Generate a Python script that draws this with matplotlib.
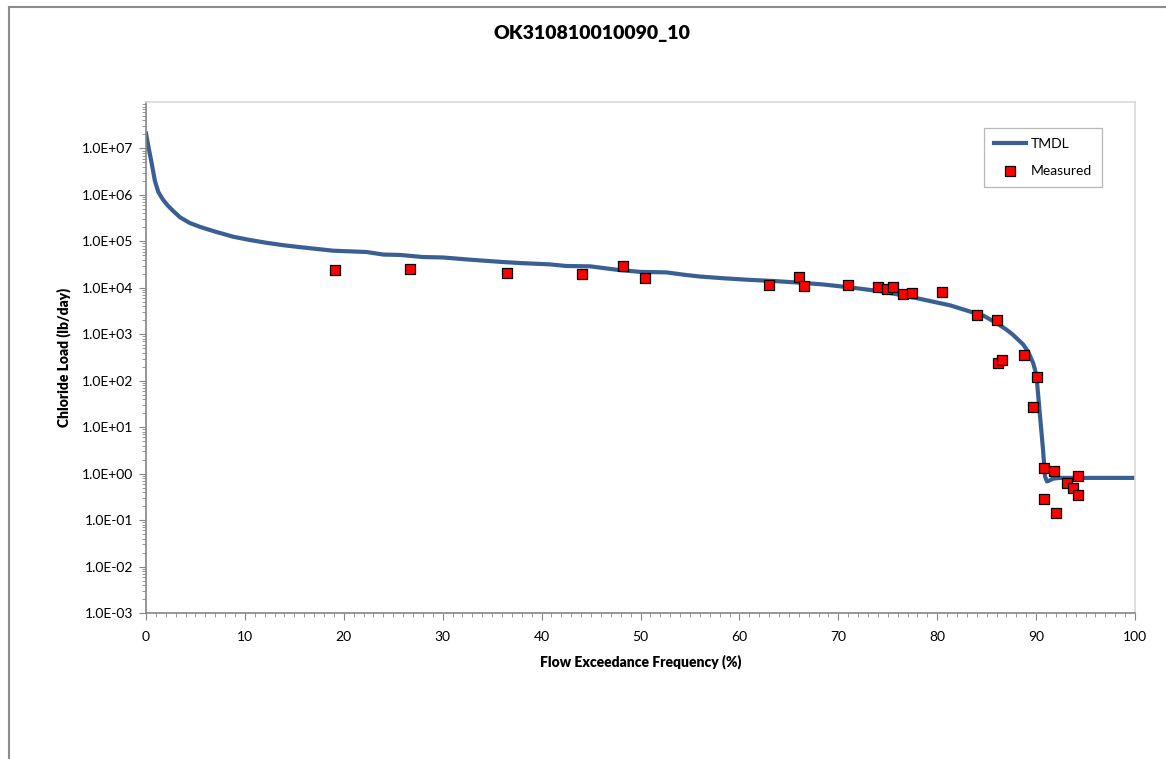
import math
import matplotlib
matplotlib.use('Agg')

import matplotlib.pyplot as plt
import matplotlib.ticker as mticker
from matplotlib.lines import Line2D

plt.rcParams['font.family'] = ['Lato', 'DejaVu Sans']

# TMDL curve (flow exceedance %, lb/day)
tmdl_x = [0.0, 0.3, 0.6, 0.9, 1.25, 1.7, 2.2, 2.8, 3.44, 4.4, 5.46, 7.0, 8.8, 10.5,
          12.2, 14.0, 15.6, 18.9, 22.3, 24.0, 25.7, 28.0, 30.0, 33.0, 36.0, 38.0,
          40.8, 42.5, 44.9, 47.6, 50.0, 52.6, 54.5, 56.0, 58.5, 61.1, 63.5, 66.1,
          68.5, 71.2, 74.5, 77.9, 81.3, 84.7, 86.0, 87.0, 87.6, 88.2, 88.7, 89.2,
          89.7, 89.9, 90.1, 90.4, 90.7, 90.9, 91.1, 91.4, 91.7, 92.4, 95.0, 100.0]
tmdl_y = [2.1e7, 9.5e6, 4.5e6, 2.0e6, 1.15e6, 8.0e5, 5.9e5, 4.4e5, 3.3e5, 2.5e5,
          2.05e5, 1.62e5, 1.26e5, 1.07e5, 9.3e4, 8.2e4, 7.5e4, 6.3e4, 5.9e4, 5.2e4,
          5.1e4, 4.6e4, 4.5e4, 4.0e4, 3.6e4, 3.4e4, 3.2e4, 2.95e4, 2.9e4, 2.45e4,
          2.2e4, 2.15e4, 1.9e4, 1.75e4, 1.6e4, 1.48e4, 1.4e4, 1.29e4, 1.18e4,
          1.02e4, 8.3e3, 6.0e3, 4.2e3, 2.5e3, 1.74e3, 1.26e3, 1.0e3, 7.6e2, 6.0e2,
          4.2e2, 2.4e2, 1.7e2, 90.0, 17.0, 3.3, 0.87, 0.68, 0.72, 0.78, 0.81, 0.81,
          0.81]

# measured loads
meas_x = [19.1, 26.7, 36.5, 44.1, 48.2, 50.5, 63.0, 66.0, 66.5, 71.0, 74.0, 74.9,
          75.5, 76.5, 77.5, 80.5, 84.0, 86.0, 86.1, 86.6, 88.8, 90.1, 89.7, 90.8,
          91.8, 90.8, 92.0, 93.1, 93.7, 94.2, 94.2]
meas_y = [2.4e4, 2.5e4, 2.1e4, 2.0e4, 2.9e4, 1.6e4, 1.15e4, 1.7e4, 1.1e4, 1.15e4,
          1.05e4, 9.5e3, 1.05e4, 7.3e3, 7.8e3, 8.2e3, 2.6e3, 2.0e3, 2.4e2, 2.8e2,
          3.6e2, 1.2e2, 27.0, 1.3, 1.15, 0.29, 0.145, 0.63, 0.5, 0.9, 0.35]

fig = plt.figure(figsize=(11.66, 7.59), dpi=100)
ax = fig.add_axes([146 / 1166, 1 - 613 / 759, (1135 - 146) / 1166, (613 - 102) / 759])

ax.plot(tmdl_x, tmdl_y, color='#3A6093', lw=3, label='TMDL', zorder=2)
ax.scatter(meas_x, meas_y, marker='s', s=62, color='#FF0000', edgecolors='black',
           linewidths=0.9, label='Measured', zorder=3)

ax.set_yscale('log')
ax.set_xlim(0, 100)
ax.set_ylim(1e-3, 1e8)
ax.set_yticks([10.0 ** k for k in range(-3, 8)])
ax.yaxis.set_major_formatter(mticker.FuncFormatter(
    lambda v, p: '1.0E%+03d' % round(math.log10(v))))
ax.yaxis.set_minor_locator(mticker.LogLocator(base=10, subs=range(2, 10), numticks=20))
ax.yaxis.set_minor_formatter(mticker.NullFormatter())
ax.xaxis.set_major_locator(mticker.MultipleLocator(10))
ax.xaxis.set_minor_locator(mticker.MultipleLocator(1))

ax.tick_params(which='major', direction='out', length=5, color='#868686',
               labelsize=10, labelcolor='black', pad=4)
ax.tick_params(which='minor', direction='out', length=3, color='#868686')
ax.tick_params(axis='x', which='major', pad=8)
for s in ['left', 'bottom']:
    ax.spines[s].set_color('#868686')
    ax.spines[s].set_linewidth(1.2)
for s in ['top', 'right']:
    ax.spines[s].set_color('#D9D9D9')
    ax.spines[s].set_linewidth(1.2)

ax.set_xlabel('Flow Exceedance Frequency (%)', fontsize=10, fontweight='heavy', labelpad=8)
ax.set_ylabel('Chloride Load (lb/day)', fontsize=10, fontweight='heavy', labelpad=8)
fig.text(591.5 / 1166, 1 - 33 / 759, 'OK310810010090_10', ha='center', va='center',
         fontsize=14, fontweight='heavy')

leg = ax.legend(loc='upper right', bbox_to_anchor=(1109 / 1166, 1 - 121 / 759),
                bbox_transform=fig.transFigure, fontsize=10, frameon=True,
                fancybox=False, borderpad=0.7, labelspacing=1.1, handlelength=2.3,
                handletextpad=0.4)
leg.get_frame().set_edgecolor('#A6A6A6')
leg.get_frame().set_linewidth(0.9)

# outer chart border
fig.add_artist(Line2D([8.5 / 1166, 8.5 / 1166], [0, 1 - 6.5 / 759], color='#8C8C8C',
                      lw=1.5, transform=fig.transFigure))
fig.add_artist(Line2D([8.5 / 1166, 1], [1 - 6.5 / 759, 1 - 6.5 / 759], color='#8C8C8C',
                      lw=1.5, transform=fig.transFigure))

fig.savefig('out.png', dpi=100)
